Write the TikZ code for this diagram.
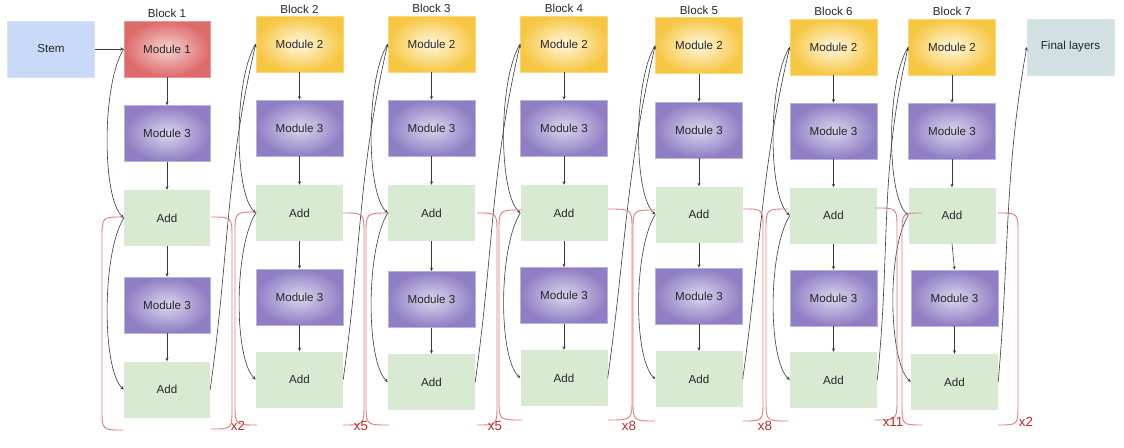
\documentclass[tikz,border=0pt]{standalone}
\usepackage{fontspec}
\setmainfont{Liberation Sans}
\usetikzlibrary{arrows.meta}
\definecolor{stemfill}{HTML}{C9DAF8}
\definecolor{finalfill}{HTML}{D0E0E3}
\definecolor{addfill}{HTML}{D9EAD3}
\definecolor{redin}{HTML}{F6D3D3}
\definecolor{redout}{HTML}{DE6A6A}
\definecolor{yelin}{HTML}{FFF8E0}
\definecolor{yelout}{HTML}{F7C744}
\definecolor{purin}{HTML}{DCD6EE}
\definecolor{purout}{HTML}{8F7EC4}
\definecolor{brkcol}{HTML}{E07C7C}
\definecolor{lblred}{HTML}{C0282B}
\definecolor{txt}{HTML}{262626}
\definecolor{linecol}{HTML}{3A3A3A}
\begin{document}
\begin{tikzpicture}[x=1pt,y=-1pt,
  box/.style={minimum width=87pt,minimum height=56pt,inner sep=0pt,
    font=\fontsize{11.6}{13}\selectfont,text=txt},
  stembox/.style={box,fill=stemfill,draw=stemfill!80!white,line width=0.5pt},
  finalbox/.style={box,fill=finalfill,draw=finalfill!80!white,line width=0.5pt},
  addbox/.style={box,fill=addfill},
  mone/.style={box,inner color=redin,outer color=redout,draw=redout!70!white,line width=0.6pt},
  mtwo/.style={box,inner color=yelin,outer color=yelout,draw=yelout!70!white,line width=0.6pt},
  mthree/.style={box,inner color=purin,outer color=purout,draw=purout!60!white,line width=0.6pt},
  blbl/.style={font=\fontsize{11.6}{13}\selectfont,text=txt,inner sep=0pt},
  xlbl/.style={font=\fontsize{13.3}{15}\selectfont,text=lblred,inner sep=0pt},
  arr/.style={draw=linecol,line width=0.6pt,-{Stealth[length=3.5pt,width=3pt]}},
  brk/.style={draw=brkcol,line width=0.9pt}
]
\useasboundingbox (0,0) rectangle (1124,447);
\fill[white] (0,0) rectangle (1124,447);

% Stem and final
\node[stembox] (stem) at (51,49) {Stem};
\node[finalbox] (final) at (1070.5,47) {Final layers};

% Block 1
\node[blbl] (b1l) at (167,13) {Block 1};
\node[mone,minimum width=86pt] (b1t) at (167,49) {Module 1};
\node[mthree,minimum width=86pt] (b1m1) at (167,133.5) {Module 3};
\node[addbox,minimum width=86pt] (b1a1) at (167,218) {Add};
\node[mthree,minimum width=86pt] (b1m2) at (167,305) {Module 3};
\node[addbox,minimum width=86pt] (b1a2) at (167,389.5) {Add};

% Block 2
\node[blbl] (b2l) at (299.5,9) {Block 2};
\node[mtwo] (b2t) at (299.5,44) {Module 2};
\node[mthree] (b2m1) at (299.5,128) {Module 3};
\node[addbox] (b2a1) at (299.5,213) {Add};
\node[mthree] (b2m2) at (299.5,297) {Module 3};
\node[addbox] (b2a2) at (299.5,379.5) {Add};

% Block 3
\node[blbl] (b3l) at (431.5,8) {Block 3};
\node[mtwo] (b3t) at (431.5,44) {Module 2};
\node[mthree] (b3m1) at (431.5,128) {Module 3};
\node[addbox] (b3a1) at (431.5,213) {Add};
\node[mthree] (b3m2) at (431.5,299.5) {Module 3};
\node[addbox] (b3a2) at (431.5,382) {Add};

% Block 4
\node[blbl] (b4l) at (564,8) {Block 4};
\node[mtwo] (b4t) at (564,44) {Module 2};
\node[mthree] (b4m1) at (564,128) {Module 3};
\node[addbox] (b4a1) at (564,213) {Add};
\node[mthree] (b4m2) at (564,295.5) {Module 3};
\node[addbox] (b4a2) at (564,378) {Add};

% Block 5
\node[blbl] (b5l) at (699,10) {Block 5};
\node[mtwo] (b5t) at (699,45.5) {Module 2};
\node[mthree] (b5m1) at (699,130) {Module 3};
\node[addbox] (b5a1) at (699,214.5) {Add};
\node[mthree] (b5m2) at (699,296) {Module 3};
\node[addbox] (b5a2) at (699,379) {Add};

% Block 6
\node[blbl] (b6l) at (833.5,11) {Block 6};
\node[mtwo] (b6t) at (833.5,47) {Module 2};
\node[mthree] (b6m1) at (833.5,131) {Module 3};
\node[addbox] (b6a1) at (833.5,215.5) {Add};
\node[mthree] (b6m2) at (833.5,298) {Module 3};
\node[addbox] (b6a2) at (833.5,380) {Add};

% Block 7
\node[blbl] (b7l) at (952,11) {Block 7};
\node[mtwo] (b7t) at (952,47) {Module 2};
\node[mthree] (b7m1) at (952,131) {Module 3};
\node[addbox] (b7a1) at (952,215.5) {Add};
\node[mthree] (b7m2) at (954.5,298) {Module 3};
\node[addbox] (b7a2) at (954.5,382) {Add};

% vertical arrows and skip curves
\foreach \b in {1,...,7}{
  \draw[arr] (b\b t.south) -- (b\b m1.north);
  \draw[arr] (b\b m1.south) -- (b\b a1.north);
  \draw[arr] (b\b a1.south) -- (b\b m2.north);
  \draw[arr] (b\b m2.south) -- (b\b a2.north);
  \draw[arr] (b\b t.west) .. controls +(-22,35) and +(-22,-20) .. (b\b a1.west);
  \draw[arr] (b\b a1.west) .. controls +(-22,35) and +(-22,-20) .. (b\b a2.west);
}

% connectors between blocks
\draw[arr] (stem.east) -- (b1t.west);
\draw[arr] (b1a2.east) to[out=82,in=-103] (b2t.west);
\draw[arr] (b2a2.east) to[out=82,in=-103] (b3t.west);
\draw[arr] (b3a2.east) to[out=82,in=-103] (b4t.west);
\draw[arr] (b4a2.east) to[out=82,in=-103] (b5t.west);
\draw[arr] (b5a2.east) to[out=82,in=-103] (b6t.west);
\draw[arr] (b6a2.east) to[out=84,in=-103] (b7t.west);
\draw[arr] (b7a2.east) to[out=85,in=-100] (final.west);

% repetition brackets
% Block 1
\draw[brk] (123,217) .. controls (102,217) .. (102,238) -- (102,409) .. controls (102,430) .. (123,430);
\draw[brk] (211,217) .. controls (232,217) .. (232,238) -- (232,408) .. controls (232,429) .. (211,429);
\node[xlbl] (x1) at (238,426) {x2};
% Block 2
\draw[brk] (257,212) .. controls (235,212) .. (235,233) -- (235,404) .. controls (235,425) .. (257,425);
\draw[brk] (343,213) .. controls (364,213) .. (364,234) -- (364,404) .. controls (364,425) .. (343,425);
\node[xlbl] (x2) at (361,426) {x5};
% Block 3
\draw[brk] (389,213) .. controls (366,213) .. (366,234) -- (366,404) .. controls (366,425) .. (389,425);
\draw[brk] (477,213) .. controls (497,213) .. (497,234) -- (497,404) .. controls (497,425) .. (477,425);
\node[xlbl] (x3) at (495,426) {x5};
% Block 4
\draw[brk] (522,210) .. controls (499,210) .. (499,231) -- (499,399) .. controls (499,420) .. (522,420);
\draw[brk] (608,209) .. controls (632,209) .. (632,230) -- (632,399) .. controls (632,420) .. (608,420);
\node[xlbl] (x4) at (629,426) {x8};
% Block 5
\draw[brk] (655,210) .. controls (633,210) .. (633,231) -- (633,400) .. controls (633,421) .. (655,421);
\draw[brk] (743,209) .. controls (763,209) .. (763,230) -- (763,400) .. controls (763,421) .. (743,421);
\node[xlbl] (x5) at (765,426) {x8};
% Block 6
\draw[brk] (788,209) .. controls (766,209) .. (766,230) -- (766,400) .. controls (766,421) .. (788,421);
\draw[brk] (876,208) .. controls (897,208) .. (897,229) -- (897,399) .. controls (897,420) .. (875,420);
\node[xlbl] (x6) at (893,422) {x11};
% Block 7
\draw[brk] (922,213) .. controls (902,213) .. (902,234) -- (902,404) .. controls (902,425) .. (922,425);
\draw[brk] (998,213) .. controls (1018,213) .. (1018,234) -- (1018,404) .. controls (1018,425) .. (998,425);
\node[xlbl] (x7) at (1026,422) {x2};
\end{tikzpicture}
\end{document}
